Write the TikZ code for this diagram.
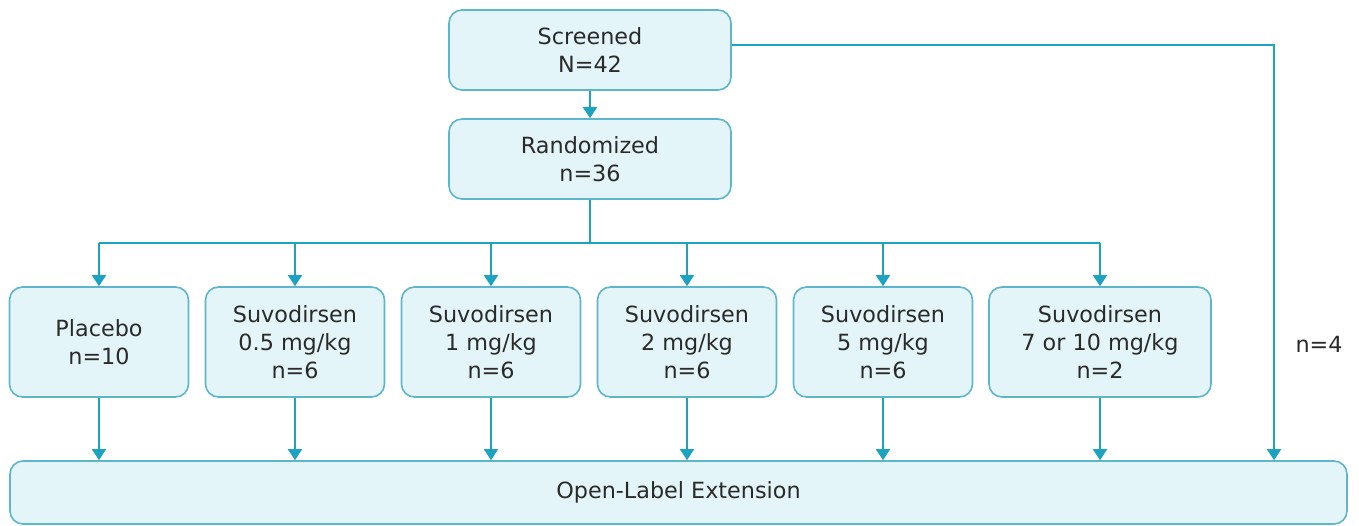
\documentclass[tikz,border=0pt]{standalone}
\usepackage{fontspec}
\setmainfont{DejaVu Sans}
\usetikzlibrary{arrows.meta}
\definecolor{lineC}{HTML}{1CA3C1}
\definecolor{boxB}{HTML}{5DB6CA}
\definecolor{boxF}{HTML}{E3F5F9}
\definecolor{txt}{HTML}{2A2A2A}
\tikzset{
  box/.style={draw=boxB, fill=boxF, line width=1.6pt, rounded corners=13pt,
    align=center, text=txt, inner sep=0pt, font=\fontsize{22.3}{28}\selectfont},
  conn/.style={draw=lineC, line width=1.8pt,
    -{Triangle[width=14pt,length=11pt]}},
  plain/.style={draw=lineC, line width=1.8pt},
  lbl/.style={text=txt, font=\fontsize{22.3}{28}\selectfont}
}
\begin{document}
\begin{tikzpicture}[x=1pt,y=-1pt]
\useasboundingbox (0,0) rectangle (1359,526);
\node[box, minimum width=282, minimum height=80] (S) at (590,50) {Screened\\N=42};
\node[box, minimum width=282, minimum height=80] (R) at (590,159) {Randomized\\n=36};
\node[box, minimum width=179, minimum height=110] (b1) at (99,342) {Placebo\\n=10};
\node[box, minimum width=179, minimum height=110] (b2) at (295,342) {Suvodirsen\\0.5 mg/kg\\n=6};
\node[box, minimum width=179, minimum height=110] (b3) at (491,342) {Suvodirsen\\1 mg/kg\\n=6};
\node[box, minimum width=179, minimum height=110] (b4) at (687,342) {Suvodirsen\\2 mg/kg\\n=6};
\node[box, minimum width=179, minimum height=110] (b5) at (883,342) {Suvodirsen\\5 mg/kg\\n=6};
\node[box, minimum width=222, minimum height=110] (b6) at (1100,342) {Suvodirsen\\7 or 10 mg/kg\\n=2};
\node[box, minimum width=1337, minimum height=63] (O) at (678.5,492.5) {Open-Label Extension};
\node[lbl] (n4) at (1319,344) {n=4};
\coordinate (br) at (590,243);
\coordinate (rt) at (1274,45);
\draw[conn] (S) -- (R);
\draw[plain] (R.south) -- (br);
\draw[plain] (br -| b1.north) -- (br -| b6.north);
\draw[conn] (br -| b1.north) -- (b1.north);
\draw[conn] (br -| b2.north) -- (b2.north);
\draw[conn] (br -| b3.north) -- (b3.north);
\draw[conn] (br -| b4.north) -- (b4.north);
\draw[conn] (br -| b5.north) -- (b5.north);
\draw[conn] (br -| b6.north) -- (b6.north);
\draw[conn] (b1.south) -- (b1.south |- O.north);
\draw[conn] (b2.south) -- (b2.south |- O.north);
\draw[conn] (b3.south) -- (b3.south |- O.north);
\draw[conn] (b4.south) -- (b4.south |- O.north);
\draw[conn] (b5.south) -- (b5.south |- O.north);
\draw[conn] (b6.south) -- (b6.south |- O.north);
\draw[conn] (S.east |- rt) -- (rt) -- (rt |- O.north);
\end{tikzpicture}
\end{document}
